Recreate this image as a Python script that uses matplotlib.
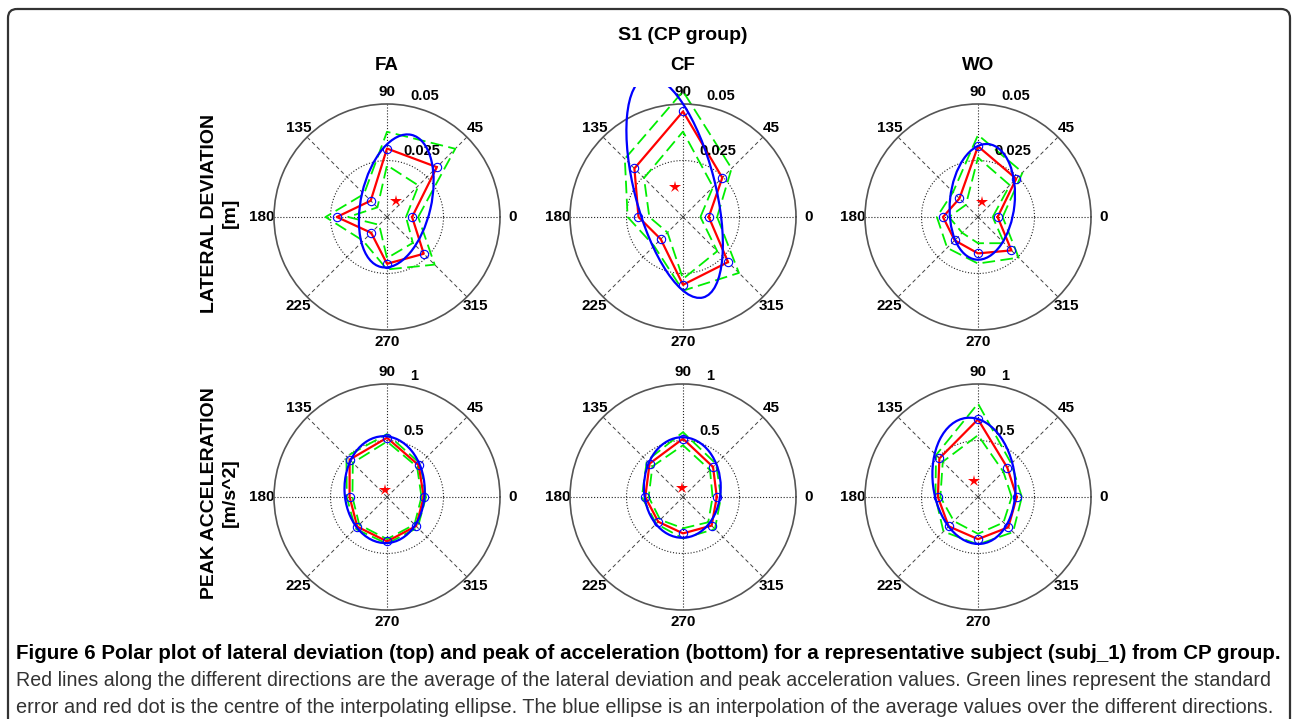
import numpy as np
import matplotlib
matplotlib.use('Agg')
import matplotlib.pyplot as plt
from matplotlib.patches import Ellipse, FancyBboxPatch
from matplotlib import font_manager

plt.rcParams['font.family'] = ['Liberation Sans', 'DejaVu Sans']

W, H = 1292, 719

directions = [0, 45, 90, 135, 180, 225, 270, 315]
conditions = ['FA', 'CF', 'WO']

# lateral deviation [m]: mean and standard error per direction
lat_mean = {
    'FA': [0.0111, 0.0312, 0.0303, 0.0102, 0.0222, 0.0099, 0.0207, 0.0230],
    'CF': [0.0114, 0.0246, 0.0467, 0.0304, 0.0197, 0.0139, 0.0300, 0.0282],
    'WO': [0.0087, 0.0239, 0.0313, 0.0116, 0.0155, 0.0146, 0.0161, 0.0209],
}
lat_se = {
    'FA': [0.0027, 0.0115, 0.0074, 0.0042, 0.0050, 0.0050, 0.0025, 0.0068],
    'CF': [0.0037, 0.0058, 0.0089, 0.0060, 0.0048, 0.0042, 0.0026, 0.0068],
    'WO': [0.0022, 0.0040, 0.0050, 0.0040, 0.0027, 0.0047, 0.0045, 0.0045],
}
# interpolating ellipse: centre x, centre y, semi-major, semi-minor, angle (deg)
lat_ellipse = {
    'FA': (0.0041, 0.0071, 0.0300, 0.0155, 77),
    'CF': (-0.0037, 0.0131, 0.0503, 0.0178, 104.5),
    'WO': (0.0019, 0.0067, 0.0257, 0.0143, 84),
}

# peak acceleration [m/s^2]
acc_mean = {
    'FA': [0.325, 0.397, 0.524, 0.468, 0.331, 0.372, 0.393, 0.364],
    'CF': [0.299, 0.376, 0.516, 0.418, 0.334, 0.310, 0.322, 0.358],
    'WO': [0.343, 0.367, 0.687, 0.483, 0.355, 0.367, 0.373, 0.379],
}
acc_se = {
    'FA': [0.020, 0.020, 0.033, 0.040, 0.025, 0.025, 0.020, 0.020],
    'CF': [0.037, 0.038, 0.058, 0.035, 0.030, 0.025, 0.045, 0.042],
    'WO': [0.045, 0.050, 0.140, 0.042, 0.022, 0.065, 0.047, 0.060],
}
acc_ellipse = {
    'FA': (-0.021, 0.065, 0.473, 0.355, 92),
    'CF': (-0.006, 0.084, 0.445, 0.340, 90),
    'WO': (-0.036, 0.143, 0.561, 0.364, 97),
}

rows = [
    ('LATERAL DEVIATION\n[m]', 0.05, ['0.025', '0.05'], lat_mean, lat_se, lat_ellipse),
    ('PEAK ACCELERATION\n[m/s^2]', 1.0, ['0.5', '1'], acc_mean, acc_se, acc_ellipse),
]

caption = [
    'Figure 6 Polar plot of lateral deviation (top) and peak of acceleration (bottom) '
    'for a representative subject (subj_1) from CP group.',
    'Red lines along the different directions are the average of the lateral deviation '
    'and peak acceleration values. Green lines represent the standard',
    'error and red dot is the centre of the interpolating ellipse. The blue ellipse is an '
    'interpolation of the average values over the different directions.',
]

# layout in pixels
col_x = [387, 683, 978]
row_y = [217, 497]
R = 113

fig = plt.figure(figsize=(W / 100, H / 100), dpi=100)
bg = fig.add_axes([0, 0, 1, 1])
bg.set_xlim(0, W)
bg.set_ylim(H, 0)
bg.axis('off')
bg.add_patch(FancyBboxPatch((8, 9), 1282, 760, boxstyle='round,pad=0,rounding_size=9',
                            fc='none', ec='#333333', lw=1.6))


def px_axes(left, top, right, bottom, **kw):
    return fig.add_axes([left / W, 1 - bottom / H, (right - left) / W, (bottom - top) / H], **kw)


bg.text(683, 35, 'S1 (CP group)', ha='center', va='center', fontsize=14, fontweight='bold')
for name, cx in zip(conditions, col_x):
    bg.text(cx, 66, name, ha='center', va='center', fontsize=13.5, fontweight='bold')

for (label, rmax, rlabels, mean_d, se_d, ell_d), cy in zip(rows, row_y):
    bg.text(220, cy - 4, label, rotation=90, ha='center', va='center', fontsize=14,
            fontweight='bold', linespacing=1.3, multialignment='center')
    for name, cx in zip(conditions, col_x):
        ax = px_axes(cx - R, cy - R, cx + R, cy + R, projection='polar')
        ax.patch.set_alpha(0)
        ax.set_ylim(0, rmax)
        ax.set_thetagrids(directions, [str(d) for d in directions],
                          fontsize=11, fontweight='bold')
        ax.set_rgrids([rmax / 2], labels=[''])
        ax.tick_params(axis='x', length=0, pad=2)
        ax.grid(True, color='#222222', lw=0.8, ls=':')
        for d, gl in zip(directions, ax.xaxis.get_gridlines()):
            if d % 90:
                gl.set_linestyle((0, (4, 3)))
                gl.set_linewidth(0.7)
                gl.set_color('#444444')
        ax.spines['polar'].set_color('#555555')
        ax.spines['polar'].set_linewidth(1.2)

        th = np.deg2rad(directions + [directions[0]])
        m = np.array(mean_d[name] + [mean_d[name][0]])
        s = np.array(se_d[name] + [se_d[name][0]])
        ax.plot(th, m + s, color='#00ee00', ls='--', lw=1.3, dashes=(7, 3), clip_on=False)
        ax.plot(th, m - s, color='#00ee00', ls='--', lw=1.3, dashes=(7, 3), clip_on=False)
        ax.plot(th, m, color='red', lw=1.6, clip_on=False)
        ax.plot(th[:-1], m[:-1], 'o', mfc='none', mec='blue', ms=6, mew=0.8, clip_on=False)

        ax.text(np.deg2rad(75.5), 0.566 * rmax, rlabels[0], ha='left', va='baseline',
                fontsize=10.5, fontweight='bold')
        ax.text(np.deg2rad(78.9), 1.053 * rmax, rlabels[1], ha='left', va='baseline',
                fontsize=10.5, fontweight='bold')

        # ellipse and its centre on a cartesian overlay with the same scale
        top = 87 if cy < 300 else cy - R - 40
        ov = px_axes(cx - 1.5 * R, top, cx + 1.5 * R, cy + 1.3 * R)
        k = rmax / R
        ov.set_xlim(-1.5 * R * k, 1.5 * R * k)
        ov.set_ylim(-1.3 * R * k, (cy - top) * k)
        ov.axis('off')
        ex, ey, ea, eb, ang = ell_d[name]
        ov.add_patch(Ellipse((ex, ey), 2 * ea, 2 * eb, angle=ang, fill=False,
                             ec='blue', lw=1.6))
        ov.plot(ex, ey, marker='*', color='red', ms=9, mew=0)

# caption
names = {f.name for f in font_manager.fontManager.ttflist}
cap_font = 'Liberation Sans Narrow' if 'Liberation Sans Narrow' in names else 'Liberation Sans'
renderer = fig.canvas.get_renderer()


def fit_text(x, y, s, width, **kw):
    t = bg.text(x, y, s, ha='left', va='baseline', family=cap_font, fontsize=12, **kw)
    w = t.get_window_extent(renderer=renderer).width
    t.set_fontsize(12 * width / w)
    return t


fit_text(16, 659, caption[0], 1279 - 16, fontweight='bold', color='black')
fit_text(16, 686, caption[1], 1266 - 16, color='#333333')
fit_text(16, 713, caption[2], 1279 - 16, color='#333333')

fig.savefig('out.png', dpi=100)
